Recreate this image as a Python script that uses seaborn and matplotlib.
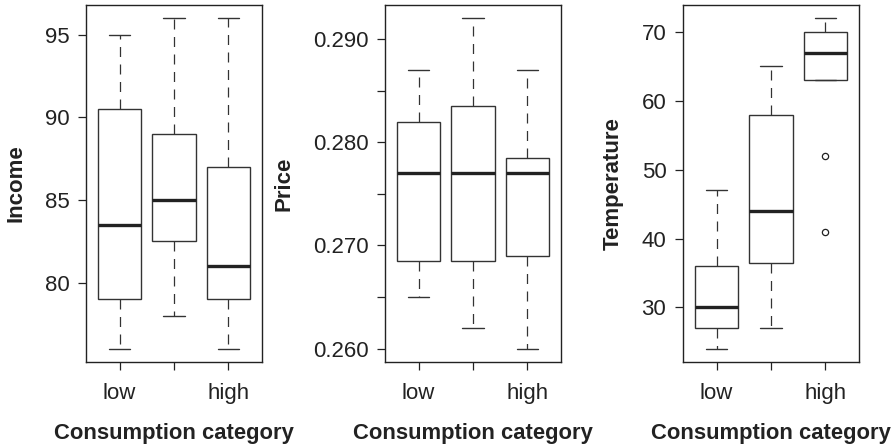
import pandas as pd
import seaborn as sns
import matplotlib.pyplot as plt

# groups of the consumption category
categories = ["low", "medium", "high"]
x_tick_labels = ["low", "", "high"]

# values (min, lower hinge, median, upper hinge, max)
income_low = [76, 79, 83.5, 90.5, 95]
income_medium = [78, 82.5, 85, 89, 96]
income_high = [76, 79, 81, 87, 96]

price_low = [0.265, 0.2685, 0.277, 0.282, 0.287]
price_medium = [0.262, 0.2685, 0.277, 0.2835, 0.292]
price_high = [0.260, 0.269, 0.277, 0.2785, 0.287]

temp_low = [24, 27, 30, 36, 47]
temp_medium = [27, 36.5, 44, 58, 65]
temp_high = [41, 52, 63, 63, 67, 68, 70, 71, 72]  # 41 and 52 are outliers

income_ticks = [80, 85, 90, 95]
income_labels = ["80", "85", "90", "95"]
price_ticks = [0.260, 0.265, 0.270, 0.275, 0.280, 0.285, 0.290]
price_labels = ["0.260", "", "0.270", "", "0.280", "", "0.290"]
temp_ticks = [30, 40, 50, 60, 70]
temp_labels = ["30", "40", "50", "60", "70"]


def long_frame(name, groups):
    rows = []
    for cat, vals in zip(categories, groups):
        for v in vals:
            rows.append({"cat": cat, name: v})
    return pd.DataFrame(rows)


panels = [
    ("Income", [income_low, income_medium, income_high], income_ticks, income_labels),
    ("Price", [price_low, price_medium, price_high], price_ticks, price_labels),
    ("Temperature", [temp_low, temp_medium, temp_high], temp_ticks, temp_labels),
]

sns.set_style("ticks")
plt.rcParams["font.family"] = ["Liberation Sans", "DejaVu Sans"]
plt.rcParams["text.color"] = "#222222"
plt.rcParams["axes.labelcolor"] = "#222222"

fig = plt.figure(figsize=(8.96, 4.46), dpi=100)
lefts = [86 / 896, 385 / 896, 683 / 896]

line_col = "#333333"
for left, (name, groups, ticks, labels) in zip(lefts, panels):
    ax = fig.add_axes([left, 84 / 446, 176 / 896, 357 / 446])
    df = long_frame(name, groups)
    sns.boxplot(data=df, x="cat", y=name, order=categories, ax=ax,
                color="white", linecolor=line_col, linewidth=1.0, width=0.8,
                whiskerprops={"linestyle": (0, (8, 6)), "linewidth": 0.9},
                medianprops={"linewidth": 2.4, "color": "#222222"},
                flierprops={"marker": "o", "markersize": 4.5,
                            "markerfacecolor": "none",
                            "markeredgecolor": "#222222",
                            "markeredgewidth": 0.9})
    all_vals = [v for g in groups for v in g]
    lo, hi = min(all_vals), max(all_vals)
    pad = (hi - lo) * 0.04
    ax.set_ylim(lo - pad, hi + pad)
    ax.set_xlim(-0.615, 2.615)
    ax.set_yticks(ticks)
    ax.set_yticklabels(labels)
    ax.set_xticks(range(len(categories)))
    ax.set_xticklabels(x_tick_labels)
    for s in ax.spines.values():
        s.set_visible(True)
        s.set_linewidth(1.0)
        s.set_color("#222222")
    ax.tick_params(axis="both", length=6, width=0.9, color="#222222",
                   labelsize=16, labelcolor="#222222")
    ax.tick_params(axis="x", pad=9)
    ax.tick_params(axis="y", pad=6)
    ax.set_xlabel("Consumption category", fontsize=15.8, fontweight="bold",
                  labelpad=14)
    ax.set_ylabel(name, fontsize=16, fontweight="bold", labelpad=13)

fig.savefig("out.png", dpi=100)
